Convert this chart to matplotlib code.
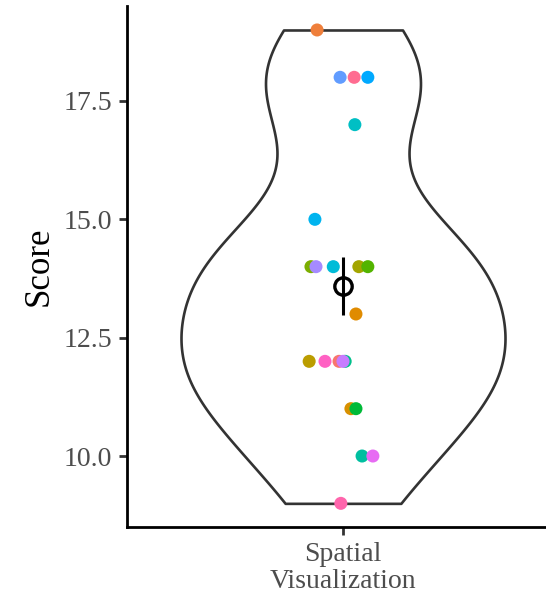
import numpy as np
import matplotlib
matplotlib.use('Agg')
import matplotlib.pyplot as plt

plt.rcParams['font.family'] = ['Liberation Serif', 'DejaVu Serif']

# Scores of each participant, with the horizontal jitter
scores = [19, 18, 18, 18, 17, 15, 14, 14, 14, 14, 14, 13,
          12, 12, 12, 12, 12, 11, 11, 10, 10, 9]
jitter = [-0.072, -0.008, 0.031, 0.069, 0.033, -0.078, -0.089, -0.075, -0.027, 0.044, 0.069, 0.036,
          -0.094, -0.050, -0.011, 0.006, 0.0, 0.022, 0.036, 0.053, 0.083, -0.006]
point_colors = ['#EF7F3B', '#619CFF', '#FF6C91', '#00A9FF', '#00BFC4', '#00B4EF',
                '#7CAE00', '#A58AFF', '#00BCD8', '#A3A500', '#53B400', '#E08B00',
                '#BB9D00', '#FF61C3', '#F8766D', '#00C08B', '#C77CFF',
                '#D89000', '#00BA38', '#00BFA0', '#E76BF3', '#FF65AC']
category = 'Spatial\nVisualization'

scores_arr = np.array(scores, dtype=float)
n = len(scores_arr)
mean = scores_arr.mean()
se = scores_arr.std(ddof=1) / np.sqrt(n)

# bandwidth a bit wider than R's bw.nrd0 to match the smoother outline
sd = scores_arr.std(ddof=1)
iqr = np.subtract(*np.percentile(scores_arr, [75, 25]))
bw = 1.3 * 0.9 * min(sd, iqr / 1.34) * n ** -0.2

fig = plt.figure(figsize=(5.46, 6.01), dpi=100)
ax = fig.add_axes([0.2326, 0.1231, 0.7912, 0.8664])

parts = ax.violinplot([scores_arr], positions=[1], widths=0.9, showextrema=False,
                      bw_method=lambda kde: bw / sd, points=200)
for body in parts['bodies']:
    body.set_facecolor('white')
    body.set_edgecolor('#333333')
    body.set_linewidth(1.9)
    body.set_alpha(1)
    body.set_zorder(1)

ax.scatter(1 + np.array(jitter), scores_arr, s=88, c=point_colors, linewidths=0, zorder=3)

ax.errorbar([1], [mean], yerr=[se], fmt='o', markersize=12.5, markerfacecolor='none',
            markeredgecolor='black', markeredgewidth=2.4, ecolor='black', elinewidth=2.2,
            capsize=0, zorder=4)

ax.set_xlim(0.4, 1.6)
ax.set_ylim(8.5, 19.5)
ax.set_xticks([1])
ax.set_xticklabels([category], linespacing=1.15)
ax.set_yticks([10, 12.5, 15, 17.5])
ax.set_yticklabels(['10.0', '12.5', '15.0', '17.5'])
ax.set_ylabel('Score', fontsize=25, labelpad=6)

for side in ['top', 'right']:
    ax.spines[side].set_visible(False)
for side in ['left', 'bottom']:
    ax.spines[side].set_linewidth(2.0)
    ax.spines[side].set_color('black')
ax.tick_params(axis='both', length=5.5, width=2.0, color='#333333',
               labelsize=20, labelcolor='#4D4D4D', pad=5)

plt.savefig('out.png', dpi=100)
